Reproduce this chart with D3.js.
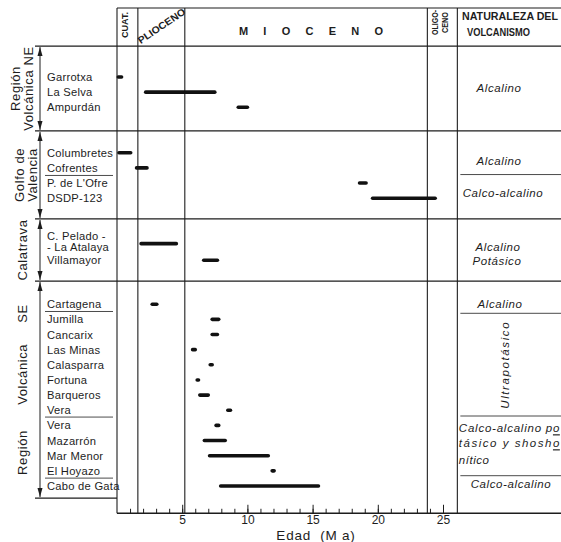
<!DOCTYPE html>
<html>
<head>
<meta charset="utf-8">
<script src="https://cdn.jsdelivr.net/npm/d3@7"></script>
<style>
  body { margin: 0; background: #fff; }
  svg text { font-family: "Liberation Sans", Arial, sans-serif; fill: #1d1d1d; }
</style>
</head>
<body>
<div id="chart"></div>
<script>
// localities, their row (line units from the top row) and age span in Ma
const localities = ["Garrotxa", "La Selva", "Ampurdán",
  "Columbretes", "Cofrentes", "P. de L'Ofre", "DSDP-123",
  "C. Pelado -\n- La Atalaya", "Villamayor",
  "Cartagena", "Jumilla", "Cancarix", "Las Minas", "Calasparra", "Fortuna",
  "Barqueros", "Vera", "Vera", "Mazarrón", "Mar Menor", "El Hoyazo", "Cabo de Gata"];
const rowPos = [0, 1, 2, 5, 6, 7, 8, 11, 12.1,
  15, 16, 17, 18, 19, 20, 21, 22, 23, 24, 25, 26, 27];
const ageFrom = [0.1, 2.2, 9.3, 0.15, 1.5, 18.6, 19.6, 1.85, 6.65,
  2.7, 7.3, 7.3, 5.8, 7.15, 6.15, 6.35, 8.5, 7.6, 6.7, 7.1, 11.9, 7.95];
const ageTo = [0.35, 7.5, 10.0, 1.05, 2.3, 19.1, 24.4, 4.55, 7.7,
  3.05, 7.8, 7.7, 6.0, 7.3, 6.25, 7.0, 8.7, 7.8, 8.3, 11.6, 12.05, 15.45];

// geological epochs (header) and their limits in Ma
const epochNames = ["CUAT.", "PLIOCENO", "M I O C E N O", "OLIGO-|CENO"];
const epochBounds = [0, 1.6, 5.2, 23.8, 26.1];

// volcanic regions and their extent in row units
const regionNames = [["Región", "Volcánica NE"], ["Golfo de", "Valencia"], ["Calatrava"], ["Región      Volcánica     SE"]];
const regionBounds = [[-2.04, 3.56], [3.56, 9.37], [9.37, 13.47], [13.47, 27.8]];
const labelRules = [6.5, 15.48, 22.45, 26.48];

// nature of the volcanism column
const natureText = ["Alcalino", "Alcalino", "Calco-alcalino", "Alcalino", "Potásico", "Alcalino", "Ultrapotásico", "Calco-alcalino"];
const naturePos = [0.73, 5.52, 7.68, 11.24, 12.12, 14.98, 19.0, 26.86];
const natureRules = [6.44, 15.6, 22.38, 26.32];

const majorTicks = [5, 10, 15, 20, 25];
const minorTicks = d3.range(1, 26);

const W = 561, H = 542;
const ink = "#1d1d1d";

const svg = d3.select("#chart").append("svg")
    .attr("width", W)
    .attr("height", H);

const x = d3.scaleLinear().domain([0, 25]).range([117, 443]);
const y = d3.scaleLinear().domain([0, 27]).range([77, 486]);

const topY = 8;
const base = y(28.8);
const natureLeft = x(epochBounds[4]);

// frame: vertical epoch limits
svg.append("g").selectAll("line")
  .data(epochBounds)
  .join("line")
    .attr("x1", d => x(d)).attr("x2", d => x(d))
    .attr("y1", topY).attr("y2", base)
    .attr("stroke", ink).attr("stroke-width", 1.1);

svg.append("line")
  .attr("x1", x(0)).attr("x2", W).attr("y1", topY).attr("y2", topY)
  .attr("stroke", ink).attr("stroke-width", 1.2);

// horizontal region separators
const groupLines = [regionBounds[0][0]].concat(regionBounds.slice(0, 3).map(d => d[1]));
svg.append("g").selectAll("line")
  .data(groupLines)
  .join("line")
    .attr("x1", 35).attr("x2", W)
    .attr("y1", d => y(d)).attr("y2", d => y(d))
    .attr("stroke", ink).attr("stroke-width", 1.3);

svg.append("line")
  .attr("x1", 35).attr("x2", x(0))
  .attr("y1", y(regionBounds[3][1])).attr("y2", y(regionBounds[3][1]))
  .attr("stroke", ink).attr("stroke-width", 1.3);

svg.append("line")
  .attr("x1", x(0)).attr("x2", W).attr("y1", base).attr("y2", base)
  .attr("stroke", ink).attr("stroke-width", 1.3);

// thin rules under some locality names
svg.append("g").selectAll("line")
  .data(labelRules)
  .join("line")
    .attr("x1", 45).attr("x2", 113)
    .attr("y1", d => y(d)).attr("y2", d => y(d))
    .attr("stroke", ink).attr("stroke-width", 0.8);

svg.append("g").selectAll("line")
  .data(natureRules)
  .join("line")
    .attr("x1", natureLeft + 3).attr("x2", W)
    .attr("y1", d => y(d)).attr("y2", d => y(d))
    .attr("stroke", ink).attr("stroke-width", 0.8);

// region brackets with arrows
const brk = svg.append("g");
regionBounds.forEach(([a, b]) => {
  const y0 = y(a) + 1, y1 = y(b) - 1;
  brk.append("line")
    .attr("x1", 40).attr("x2", 40).attr("y1", y0).attr("y2", y1)
    .attr("stroke", ink).attr("stroke-width", 1);
  brk.append("path")
    .attr("d", `M40,${y0}L37.5,${y0 + 9}L42.5,${y0 + 9}Z`)
    .attr("fill", ink);
  brk.append("path")
    .attr("d", `M40,${y1}L37.5,${y1 - 9}L42.5,${y1 - 9}Z`)
    .attr("fill", ink);
});

// region names, rotated
const regionX = [21.5, 26, 22, 22];
regionNames.forEach((lines, i) => {
  const cy = (y(regionBounds[i][0]) + y(regionBounds[i][1])) / 2;
  const g = svg.append("g").attr("transform", `translate(${regionX[i]},${cy}) rotate(-90)`);
  lines.forEach((t, j) => {
    g.append("text")
      .attr("x", 0)
      .attr("y", (j - (lines.length - 1) / 2) * 13)
      .attr("text-anchor", "middle")
      .attr("dominant-baseline", "central")
      .attr("font-size", 13)
      .attr("letter-spacing", 0.6)
      .style("white-space", "pre")
      .text(t);
  });
});

// locality names
localities.forEach((name, i) => {
  const lines = name.split("\n");
  lines.forEach((t, j) => {
    const p = lines.length > 1 ? rowPos[i] + (j === 0 ? -0.5 : 0.22) : rowPos[i];
    svg.append("text")
      .attr("x", 47)
      .attr("y", y(p))
      .attr("dominant-baseline", "central")
      .attr("font-size", 11.2)
      .attr("letter-spacing", 0.25)
      .text(t);
  });
});

// age bars
svg.append("g").selectAll("line")
  .data(localities.map((d, i) => ({ name: d, pos: rowPos[i], from: ageFrom[i], to: ageTo[i] })))
  .join("line")
    .attr("x1", d => x(d.from)).attr("x2", d => x(d.to))
    .attr("y1", d => y(d.pos)).attr("y2", d => y(d.pos))
    .attr("stroke", "#111").attr("stroke-width", 3.6)
    .attr("stroke-linecap", "round");

// header
const head = svg.append("g").attr("font-size", 10.5);
head.append("text")
  .attr("transform", `translate(124,25) rotate(-90)`)
  .attr("text-anchor", "middle").attr("dominant-baseline", "central")
  .attr("font-size", 9.5).attr("font-weight", "bold")
  .attr("textLength", 26).attr("lengthAdjust", "spacingAndGlyphs")
  .text(epochNames[0]);
head.append("text")
  .attr("transform", `translate(161.5,26) rotate(-34)`)
  .attr("text-anchor", "middle").attr("dominant-baseline", "central")
  .attr("font-size", 10).attr("font-weight", "bold")
  .attr("textLength", 55).attr("lengthAdjust", "spacingAndGlyphs")
  .text(epochNames[1]);
head.append("text")
  .attr("x", 311).attr("y", 31)
  .attr("text-anchor", "middle").attr("dominant-baseline", "central")
  .attr("font-size", 11).attr("font-weight", "bold")
  .style("white-space", "pre")
  .text(epochNames[2].split(" ").join("     "));
epochNames[3].split("|").forEach((t, j) => {
  head.append("text")
    .attr("transform", `translate(${434 + j * 10},22.5) rotate(-90)`)
    .attr("text-anchor", "middle").attr("dominant-baseline", "central")
    .attr("font-size", 9.5).attr("font-weight", "bold")
    .attr("textLength", j ? 21 : 25).attr("lengthAdjust", "spacingAndGlyphs")
    .text(t);
});
head.append("text")
  .attr("x", 462).attr("y", 15.5)
  .attr("dominant-baseline", "central")
  .attr("font-size", 11).attr("font-weight", "bold")
  .attr("textLength", 96).attr("lengthAdjust", "spacingAndGlyphs")
  .text("NATURALEZA DEL");
head.append("text")
  .attr("x", 467).attr("y", 31.5)
  .attr("dominant-baseline", "central")
  .attr("font-size", 11).attr("font-weight", "bold")
  .attr("textLength", 63).attr("lengthAdjust", "spacingAndGlyphs")
  .text("VOLCANISMO");

// nature column texts
const natureX = [499, 499, 503, 498, 497, 500, 505, 511];
natureText.forEach((t, i) => {
  const el = svg.append("text")
    .attr("font-size", 11.5).attr("font-style", "italic")
    .attr("letter-spacing", 0.6)
    .attr("text-anchor", "middle").attr("dominant-baseline", "central");
  if (t === "Ultrapotásico") {
    el.attr("transform", `translate(${natureX[i]},${y(naturePos[i])}) rotate(-90)`)
      .attr("letter-spacing", 1.6);
  } else {
    el.attr("x", natureX[i]).attr("y", y(naturePos[i]));
  }
  el.text(t);
});

// justified block: calco-alcalino potásico y shoshonítico
const block = [["Calco-alcalino p", "o", 23.19], ["tásico y shosh", "o", 24.18], ["nítico", "", 25.28]];
block.forEach(([a, b, p]) => {
  const t = svg.append("text")
    .attr("x", natureLeft + 1.5).attr("y", y(p))
    .attr("dominant-baseline", "central")
    .attr("font-size", 11.5).attr("font-style", "italic")
    .attr("letter-spacing", 0.5);
  if (b) t.attr("textLength", 101).attr("lengthAdjust", "spacing");
  t.append("tspan").text(a);
  if (b) t.append("tspan").style("text-decoration", "underline").text(b);
});

// axis: minor and major ticks pointing up
const minorAxis = svg.append("g")
  .attr("transform", `translate(0,${base})`)
  .call(d3.axisBottom(x).tickValues(minorTicks).tickSize(-4.5).tickFormat(""));
minorAxis.select(".domain").remove();
minorAxis.selectAll("line").attr("stroke", ink);

const majorAxis = svg.append("g")
  .attr("transform", `translate(0,${base})`)
  .call(d3.axisBottom(x).tickValues(majorTicks).tickSize(-8.5).tickPadding(2.5));
majorAxis.select(".domain").remove();
majorAxis.selectAll("line").attr("stroke", ink);
majorAxis.selectAll("text")
  .attr("font-family", "'Liberation Sans', Arial, sans-serif")
  .attr("font-size", 12)
  .attr("fill", ink);

svg.append("text")
  .attr("x", 316).attr("y", 535)
  .attr("text-anchor", "middle").attr("dominant-baseline", "central")
  .attr("font-size", 13.5).attr("letter-spacing", 0.8)
  .style("white-space", "pre")
  .text("Edad  (M a)");
</script>
</body>
</html>
